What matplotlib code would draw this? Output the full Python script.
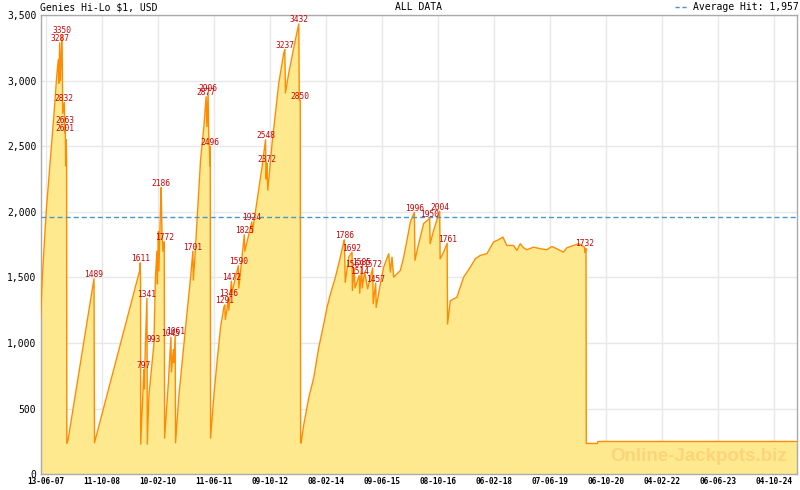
import numpy as np
import matplotlib
matplotlib.use("Agg")
import matplotlib.pyplot as plt
import matplotlib.dates as mdates
from matplotlib.lines import Line2D
from datetime import datetime

# jackpot history (decimal year, USD)
hist_year = [
    2007.320, 2007.359, 2007.407, 2007.454, 2007.518, 2007.582, 2007.644, 2007.701,
    2007.739, 2007.751, 2007.772, 2007.787, 2007.827, 2007.844, 2007.882, 2007.894,
    2007.905, 2007.913, 2007.927, 2007.936, 2007.941, 2007.970,
    2008.587, 2008.599,
    2009.680, 2009.687, 2009.694, 2009.698,
    2009.734, 2009.774, 2009.786, 2009.810, 2009.846, 2009.855,
    2009.893, 2010.012, 2010.048, 2010.083, 2010.095, 2010.119, 2010.131, 2010.166,
    2010.185, 2010.202, 2010.226, 2010.257, 2010.266,
    2010.356, 2010.416, 2010.428, 2010.475, 2010.487, 2010.518, 2010.527,
    2010.606, 2010.765, 2010.884, 2010.938, 2010.950, 2010.986, 2011.121, 2011.200,
    2011.253, 2011.271, 2011.300, 2011.313, 2011.330, 2011.342, 2011.351, 2011.359,
    2011.437, 2011.515, 2011.596, 2011.674, 2011.698, 2011.710, 2011.746, 2011.781,
    2011.793, 2011.853, 2011.864, 2012.019, 2012.031, 2012.161, 2012.173, 2012.340,
    2012.351, 2012.465, 2012.584, 2012.665, 2012.679, 2012.696, 2012.720, 2012.822,
    2012.981, 2013.100, 2013.123, 2013.140, 2013.218, 2013.377, 2013.456, 2013.468,
    2013.491, 2013.499,
    2013.510, 2013.575, 2013.693, 2013.812, 2013.931, 2014.050, 2014.128, 2014.209,
    2014.327, 2014.406, 2014.525, 2014.541, 2014.560, 2014.643, 2014.722, 2014.731,
    2014.774, 2014.793, 2014.893, 2014.905, 2014.952, 2014.964, 2015.023, 2015.094,
    2015.213, 2015.225, 2015.284, 2015.296, 2015.396, 2015.474, 2015.593, 2015.634,
    2015.672, 2015.712, 2015.790, 2015.871, 2015.950, 2016.028, 2016.109, 2016.204,
    2016.218, 2016.306, 2016.425, 2016.567, 2016.579, 2016.662, 2016.805, 2016.816,
    2016.900, 2016.983, 2016.994, 2017.059, 2017.215, 2017.375, 2017.534, 2017.652,
    2017.771, 2017.928, 2018.087, 2018.206, 2018.308, 2018.403, 2018.562, 2018.641,
    2018.721, 2018.800, 2018.878, 2019.037, 2019.196, 2019.353, 2019.472, 2019.590,
    2019.747, 2019.828, 2019.987, 2020.106, 2020.248, 2020.260, 2020.284, 2020.291,
    2020.557, 2020.569, 2025.307,
]
hist_value = [
    1195, 1500, 1757, 2012, 2267, 2523, 2778, 3033,
    3160, 2980, 3287, 3000, 3350, 2750, 2832, 2601,
    2663, 2350, 2550, 2400, 236, 260,
    1489, 240,
    1560, 1611, 1450, 230,
    500, 797, 650, 1000, 1341, 230,
    600, 993, 1500, 1700, 1450, 1850, 1550, 2000,
    2186, 1850, 1700, 1772, 276,
    700, 1045, 780, 950, 850, 1061, 240,
    600, 1120, 1500, 1701, 1480, 1650, 2395, 2650,
    2877, 2650, 2906, 2600, 2496, 2350, 2496, 276,
    600, 864, 1119, 1272, 1291, 1180, 1250, 1346,
    1250, 1472, 1380, 1590, 1420, 1825, 1700, 1924,
    1840, 2089, 2344, 2548, 2250, 2372, 2165, 2523,
    2982, 3212, 3237, 2906, 3059, 3314, 3432, 2850,
    2850, 238,
    238, 379, 583, 736, 966, 1145, 1272, 1374,
    1502, 1604, 1770, 1786, 1463, 1655, 1692, 1400,
    1569, 1420, 1514, 1380, 1585, 1420, 1540, 1413,
    1572, 1300, 1457, 1272, 1451, 1578, 1681, 1540,
    1655, 1502, 1527, 1553, 1655, 1783, 1923, 1996,
    1630, 1757, 1911, 1950, 1757, 1859, 2004, 1642,
    1693, 1761, 1145, 1323, 1349, 1502, 1578, 1642,
    1668, 1681, 1770, 1788, 1808, 1744, 1744, 1706,
    1757, 1726, 1711, 1731, 1719, 1711, 1736, 1719,
    1693, 1726, 1744, 1757, 1732, 1690, 1720, 235,
    235, 250, 250,
]

# labelled hits
hit_year = [2007.772, 2007.827, 2007.882, 2007.905, 2007.894, 2008.587, 2009.687,
            2009.774, 2009.846, 2010.012, 2010.185, 2010.257, 2010.416, 2010.518,
            2010.938, 2011.253, 2011.300, 2011.351, 2011.698, 2011.781, 2011.853,
            2012.019, 2012.161, 2012.340, 2012.665, 2012.696, 2013.123, 2013.456,
            2013.480, 2014.541, 2014.722, 2014.774, 2014.893, 2014.952, 2015.213,
            2015.284, 2016.204, 2016.567, 2016.805, 2016.983, 2020.248]
hit_value = [3287, 3350, 2832, 2663, 2601, 1489, 1611,
             797, 1341, 993, 2186, 1772, 1045, 1061,
             1701, 2877, 2906, 2496, 1291, 1346, 1472,
             1590, 1825, 1924, 2548, 2372, 3237, 3432,
             2850, 1786, 1692, 1569, 1514, 1585, 1572,
             1457, 1996, 1950, 2004, 1761, 1732]

avg_hit = 1957
y_ticks = [0, 500, 1000, 1500, 2000, 2500, 3000, 3500]


def yr2num(y):
    return mdates.date2num(datetime(2007, 1, 1)) + (np.asarray(y) - 2007) * 365.25


mono = 'DejaVu Sans Mono'
fig = plt.figure(figsize=(8, 4.9), dpi=100)
ax = fig.add_axes([40.5 / 800, 1 - 474.3 / 490, (797 - 40.5) / 800, (474.3 - 15) / 490])

x = yr2num(hist_year)
ax.fill_between(x, 0, hist_value, color='#ffe98f', lw=0, zorder=1)
ax.plot(x, hist_value, color='#ff8c00', lw=1, zorder=3)
ax.axhline(avg_hit, color='#4a97c9', lw=1, ls=(0, (3.6, 2.2)), zorder=4)

for hy, hv in zip(hit_year, hit_value):
    ax.annotate(str(hv), (yr2num(hy), hv), textcoords='offset pixels', xytext=(0, 4),
                ha='center', va='center', fontsize=5.7, family=mono,
                color='#cc0000', zorder=6)

ax.text(0.870, 0.038, 'Online-Jackpots.biz', transform=ax.transAxes, ha='center',
        va='center', fontsize=13.5, family='Liberation Sans', weight='bold',
        color='#fcd479', zorder=2)

# date axis: ticks every ~486 days from 13-06-07
t0 = mdates.date2num(datetime(2007, 6, 13)) + 0.3
step = 486.4
ax.set_xticks(t0 + np.arange(14) * step)
ax.set_xticks(t0 + np.arange(-1, 14 * 7 + 1) * step / 7, minor=True)
ax.xaxis.set_major_formatter(mdates.DateFormatter('%d-%m-%y'))
ax.set_xlim(t0 - 48, t0 + 6521)
ax.set_yticks(y_ticks)
ax.set_yticklabels([f'{v:,}' for v in y_ticks])
ax.set_ylim(0, 3500)

ax.tick_params(axis='x', which='major', direction='in', length=3, color='#aaaaaa',
               pad=2, labelsize=5.6)
ax.tick_params(axis='x', which='minor', direction='in', length=2, color='#aaaaaa')
ax.tick_params(axis='y', length=0, pad=3, labelsize=7)
for lab in ax.get_xticklabels():
    lab.set_family(mono)
    lab.set_weight('bold')
for lab in ax.get_yticklabels():
    lab.set_family(mono)

ax.grid(True, which='major', color='#e8e8e8', lw=1)
ax.set_axisbelow(True)
for sp in ax.spines.values():
    sp.set_color('#aaaaaa')
    sp.set_linewidth(1)

ty = 1 - 7 / 490
fig.text(40.5 / 800, ty, 'Genies Hi-Lo $1, USD', ha='left', va='center', fontsize=7, family=mono)
fig.text((40.5 + 797) / 2 / 800, ty, 'ALL DATA', ha='center', va='center', fontsize=7, family=mono)
fig.text(799 / 800, ty, 'Average Hit: 1,957', ha='right', va='center', fontsize=7, family=mono)
fig.add_artist(Line2D([675 / 800, 689 / 800], [ty, ty], color='#4a97c9', lw=1,
                      ls=(0, (3, 2))))

fig.savefig('out.png', dpi=100)
